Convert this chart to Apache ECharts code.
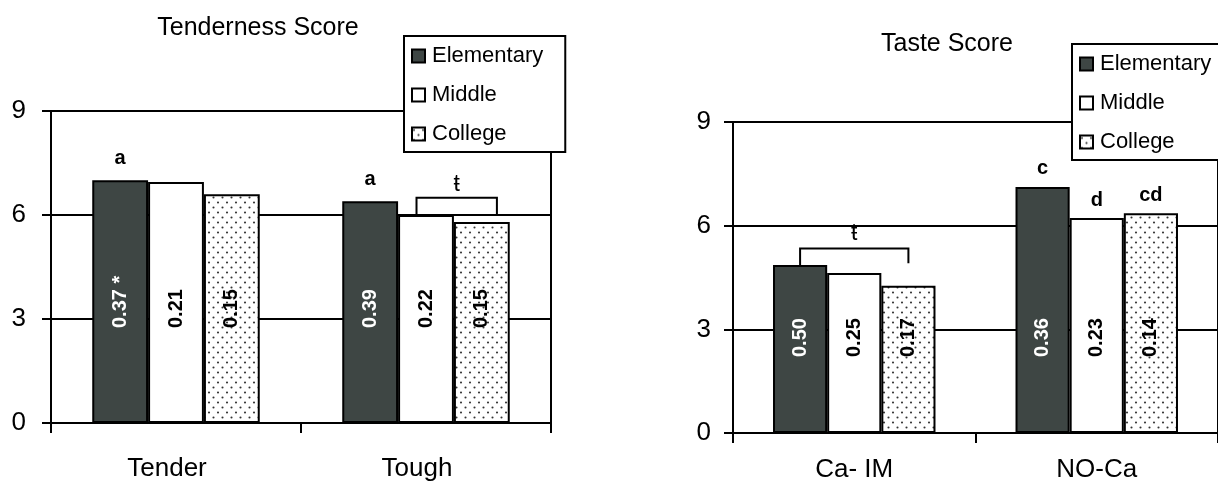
<!DOCTYPE html>
<html>
<head>
<meta charset="utf-8">
<script src="https://cdn.jsdelivr.net/npm/echarts@6/dist/echarts.min.js"></script>
<style>
html, body { margin: 0; padding: 0; background: #fff; }
#chart { width: 1218px; height: 483px; }
</style>
</head>
<body>
<div id="chart"></div>
<script>
var groups = ['Elementary', 'Middle', 'College'];

// Tenderness score
var tendCats = ['Tender', 'Tough'];
var tendElem = [7.0, 6.4];
var tendMid = [6.95, 6.0];
var tendColl = [6.6, 5.8];
var tendElemSE = ['0.37 *', '0.39'];
var tendMidSE = ['0.21', '0.22'];
var tendCollSE = ['0.15', '0.15'];
var tendElemLetter = ['a', 'a'];
var tendMidLetter = ['', ''];
var tendCollLetter = ['', ''];
// [category, from bar, to bar, top, left end, right end]
var tendBrackets = [[1, 0.83, 2.27, 6.5, 6.0, 6.0]];
var tendBracketMarks = ['ŧ'];

// Taste score
var tasteCats = ['Ca- IM', 'NO-Ca'];
var tasteElem = [4.86, 7.12];
var tasteMid = [4.63, 6.22];
var tasteColl = [4.26, 6.36];
var tasteElemSE = ['0.50', '0.36'];
var tasteMidSE = ['0.25', '0.23'];
var tasteCollSE = ['0.17', '0.14'];
var tasteElemLetter = ['', 'c'];
var tasteMidLetter = ['', 'd'];
var tasteCollLetter = ['', 'cd'];
var tasteBrackets = [[0, 0, 2, 5.34, 4.86, 4.91]];
var tasteBracketMarks = ['ŧ'];

var FONT = 'Arial, "Liberation Sans", sans-serif';
var CAT_GAP = 0.33;
var LW = 2;

function dotPattern() {
    var c = document.createElement('canvas');
    c.width = 9;
    c.height = 10;
    var g = c.getContext('2d');
    g.fillStyle = '#fff';
    g.fillRect(0, 0, 9, 10);
    g.fillStyle = '#333';
    g.beginPath();
    g.arc(2, 2.5, 1.05, 0, Math.PI * 2);
    g.fill();
    g.beginPath();
    g.arc(6.5, 7.5, 1.05, 0, Math.PI * 2);
    g.fill();
    return c;
}
var dots = {image: dotPattern(), repeat: 'repeat'};

function bars(name, vals, se, letters, idx, color, seColor, seDist, letterDist) {
    var marks = [];
    letters.forEach(function (l, i) {
        if (l) marks.push({name: l, coord: [i, vals[i]]});
    });
    return {
        name: name,
        type: 'bar',
        xAxisIndex: idx,
        yAxisIndex: idx,
        data: vals,
        barGap: '0%',
        barCategoryGap: (CAT_GAP * 100) + '%',
        itemStyle: {color: color, borderColor: '#000', borderWidth: LW},
        emphasis: {disabled: true},
        label: {
            show: true,
            position: 'insideBottom',
            distance: seDist,
            rotate: 90,
            align: 'left',
            verticalAlign: 'middle',
            fontFamily: FONT,
            fontSize: 20,
            fontWeight: 'bold',
            color: seColor,
            textBorderWidth: 0,
            formatter: function (p) { return se[p.dataIndex]; }
        },
        markPoint: {
            symbol: 'circle',
            symbolSize: 0,
            silent: true,
            label: {
                show: true,
                position: 'inside',
                offset: [0, -letterDist],
                fontFamily: FONT,
                fontSize: 20,
                fontWeight: 'bold',
                color: '#000',
                formatter: '{b}'
            },
            data: marks
        }
    };
}

function brackets(list, marks, idx, markGap) {
    return {
        type: 'custom',
        xAxisIndex: idx,
        yAxisIndex: idx,
        data: list,
        silent: true,
        z: 5,
        renderItem: function (params, api) {
            var band = api.size([1, 0])[0];
            var bw = band * (1 - CAT_GAP) / 3;
            var top = api.coord([api.value(0), api.value(3)]);
            var x1 = top[0] + (api.value(1) - 1) * bw;
            var x2 = top[0] + (api.value(2) - 1) * bw;
            var yL = api.coord([api.value(0), api.value(4)])[1];
            var yR = api.coord([api.value(0), api.value(5)])[1];
            return {
                type: 'group',
                children: [{
                    type: 'polyline',
                    shape: {points: [[x1, yL], [x1, top[1]], [x2, top[1]], [x2, yR]]},
                    style: {stroke: '#000', lineWidth: LW, fill: null}
                }, {
                    type: 'text',
                    style: {
                        text: marks[params.dataIndex],
                        x: (x1 + x2) / 2,
                        y: top[1] - markGap,
                        align: 'center',
                        verticalAlign: 'middle',
                        fontFamily: FONT,
                        fontSize: 23,
                        fill: '#000'
                    }
                }]
            };
        }
    };
}

function xAxis(idx, cats, margin, pad) {
    return {
        gridIndex: idx,
        type: 'category',
        data: cats,
        axisLine: {lineStyle: {color: '#000', width: LW}},
        axisTick: {show: true, length: 10, lineStyle: {color: '#000', width: LW}},
        axisLabel: {fontFamily: FONT, fontSize: 26, color: '#000', margin: margin, padding: pad}
    };
}

function yAxis(idx, margin) {
    return {
        gridIndex: idx,
        type: 'value',
        min: 0,
        max: 9,
        interval: 3,
        axisLine: {show: true, lineStyle: {color: '#000', width: LW}},
        axisTick: {show: true, length: 9, lineStyle: {color: '#000', width: LW}},
        splitLine: {lineStyle: {color: '#000', width: LW}},
        axisLabel: {fontFamily: FONT, fontSize: 26, color: '#000', margin: margin}
    };
}

function legend(left, top) {
    return {
        data: groups,
        orient: 'vertical',
        left: left,
        top: top,
        padding: [9, 22, 7, 7],
        itemGap: 17,
        itemWidth: 13,
        itemHeight: 13,
        icon: 'rect',
        borderColor: '#000',
        borderWidth: LW,
        backgroundColor: '#fff',
        selectedMode: false,
        z: 10,
        textStyle: {fontFamily: FONT, fontSize: 22, color: '#000', padding: [0, 0, 0, 2]}
    };
}

var myChart = echarts.init(document.getElementById('chart'));
var option = {
    animation: false,
    backgroundColor: '#fff',
    textStyle: {fontFamily: FONT, color: '#000'},
    title: [
        {text: 'Tenderness Score', left: 258, top: 16, padding: 0, textAlign: 'center',
            textStyle: {fontFamily: FONT, fontSize: 25, fontWeight: 'normal', color: '#000'}},
        {text: 'Taste Score', left: 947, top: 32, padding: 0, textAlign: 'center',
            textStyle: {fontFamily: FONT, fontSize: 25, fontWeight: 'normal', color: '#000'}}
    ],
    legend: [legend(404, 36), legend(1072, 44)],
    grid: [
        {left: 51, top: 111, width: 500, height: 312, show: true, borderColor: '#000', borderWidth: LW},
        {left: 733, top: 122, width: 486, height: 315, show: true, borderColor: '#000', borderWidth: LW}
    ],
    xAxis: [xAxis(0, tendCats, 33, [0, 18, 0, 0]), xAxis(1, tasteCats, 24, 0)],
    yAxis: [yAxis(0, 25), yAxis(1, 22)],
    series: [
        bars('Elementary', tendElem, tendElemSE, tendElemLetter, 0, '#3e4644', '#fff', 95, 22),
        bars('Middle', tendMid, tendMidSE, tendMidLetter, 0, '#fff', '#000', 95, 22),
        bars('College', tendColl, tendCollSE, tendCollLetter, 0, dots, '#000', 95, 22),
        brackets(tendBrackets, tendBracketMarks, 0, 13),
        bars('Elementary', tasteElem, tasteElemSE, tasteElemLetter, 1, '#3e4644', '#fff', 76, 18),
        bars('Middle', tasteMid, tasteMidSE, tasteMidLetter, 1, '#fff', '#000', 76, 18),
        bars('College', tasteColl, tasteCollSE, tasteCollLetter, 1, dots, '#000', 76, 18),
        brackets(tasteBrackets, tasteBracketMarks, 1, 15)
    ]
};

myChart.setOption(option);
</script>
</body>
</html>
